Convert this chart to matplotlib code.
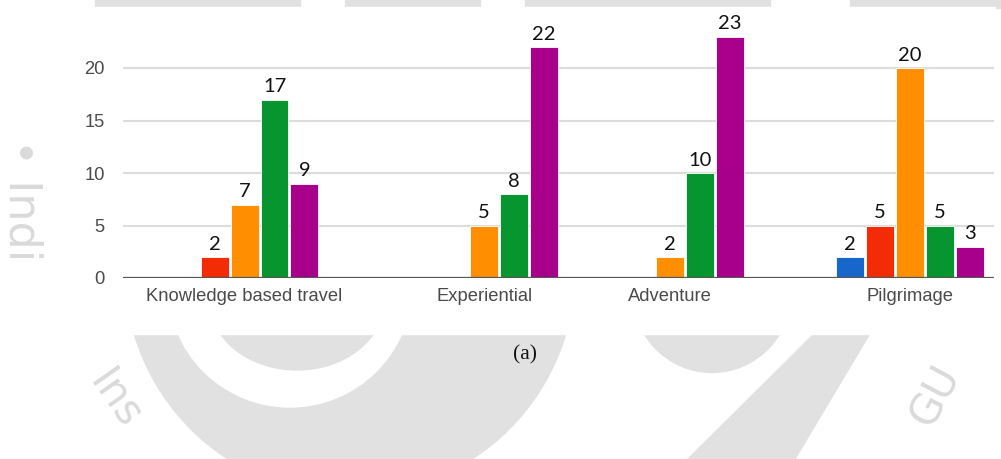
import matplotlib.pyplot as plt
from matplotlib.patches import Circle, Ellipse, Polygon, Rectangle

# travel type survey counts, one series per answer option
categories = ["Knowledge based travel", "Experiential", "Adventure", "Pilgrimage"]
series_blue = [0, 0, 0, 2]
series_red = [2, 0, 0, 5]
series_orange = [7, 5, 2, 20]
series_green = [17, 8, 10, 5]
series_purple = [9, 22, 23, 3]
y_ticks = [0, 5, 10, 15, 20]

series = [series_blue, series_red, series_orange, series_green, series_purple]
colors = ["#1766cc", "#f42c06", "#ff8f00", "#07952f", "#a8008b"]

# group centres are not evenly spaced in this layout
group_pos = [0.0, 1.08, 1.918, 3.0]
step = 0.135
bar_w = 0.126

W, H = 1001, 459
fig = plt.figure(figsize=(W / 100, H / 100), dpi=100)
fig.patch.set_facecolor("white")

# faint seal in the page background (pixel coordinates, y down)
bg = fig.add_axes([0, 0, 1, 1], zorder=0)
bg.set_xlim(0, W)
bg.set_ylim(H, 0)
bg.axis("off")
seal = "#e1e1e1"
bg.add_patch(Circle((350, 270), 225, color=seal))
bg.add_patch(Circle((290, 285), 122, color="white"))
bg.add_patch(Ellipse((297, 300), 175, 140, color=seal))
bg.add_patch(Polygon([(818, 330), (872, 330), (795, 459), (688, 459)], color=seal))
bg.add_patch(Ellipse((712, 290), 160, 165, color=seal))
for x0, x1 in [(95, 300), (345, 480), (525, 770), (850, 1000)]:
    bg.add_patch(Rectangle((x0, 0), x1 - x0, 8, color=seal))
bg.text(22, 200, "• Indi", rotation=-90, color="#dadada", fontsize=32,
        ha="center", va="center", family="DejaVu Sans")
bg.text(115, 400, "Ins", rotation=-55, color="#dadada", fontsize=30,
        ha="center", va="center", family="DejaVu Sans")
bg.text(935, 395, "GU", rotation=62, color="#dadada", fontsize=30,
        ha="center", va="center", family="DejaVu Sans")
# white panel the chart sits on
bg.add_patch(Rectangle((53, 7), 942, 327, color="white"))
bg.text(525, 355, "(a)", fontsize=15.5, family="Liberation Serif",
        ha="center", va="center", color="#111111")

ax = fig.add_axes([123 / W, (H - 278) / H, (994 - 123) / W, (278 - 15.5) / H], zorder=1)
ax.patch.set_alpha(0)

n = len(series)
for i, (vals, col) in enumerate(zip(series, colors)):
    offs = (i - (n - 1) / 2) * step
    for g, v in zip(group_pos, vals):
        if v == 0:
            continue
        ax.bar(g + offs, v, width=bar_w, color=col, edgecolor="white",
               linewidth=0.6, zorder=3)
        ax.text(g + offs, v + 0.4, str(v), ha="center", va="bottom",
                fontsize=14.5, family="Lato", color="#111111", zorder=4)

ax.set_xlim(-0.548, 3.379)
ax.set_ylim(0, 25)
ax.set_yticks(y_ticks)
ax.set_xticks(group_pos)
ax.set_xticklabels(categories)
ax.tick_params(axis="both", length=0, labelsize=13.2, labelcolor="#4a4a4a")
ax.tick_params(axis="y", pad=13)
ax.tick_params(axis="x", pad=7)
for lab in ax.get_xticklabels() + ax.get_yticklabels():
    lab.set_family("Liberation Sans")

for t in y_ticks[1:]:
    ax.axhline(t, color="#dcdcdc", linewidth=1.5, zorder=1)
ax.axhline(0, color="#555555", linewidth=1.6, zorder=5)
for s in ax.spines.values():
    s.set_visible(False)

fig.savefig("out.png", dpi=100)
